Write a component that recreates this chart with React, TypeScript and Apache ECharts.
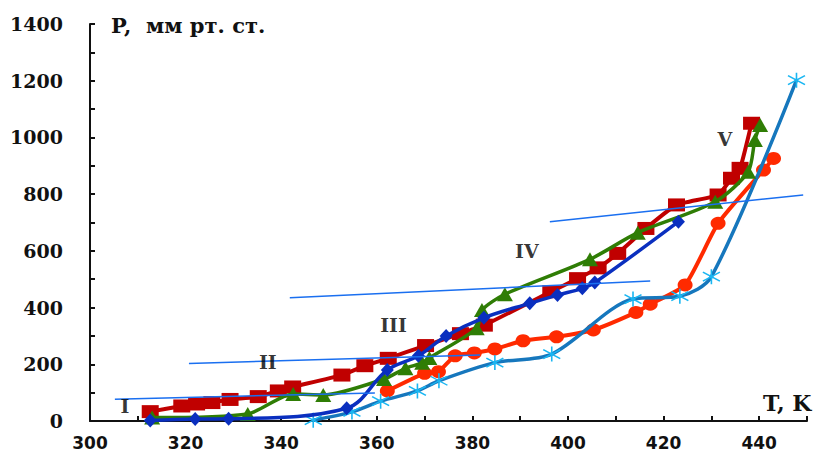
import React, { useEffect, useRef } from 'react';
import * as echarts from 'echarts';

// Axis setup
const xMin = 300;
const xMax = 450;
const xStep = 10;
const yMin = 0;
const yMax = 1400;
const yStep = 100;

// Series data [T, P]
const squares: [number, number][] = [
  [312.6, 33], [319.2, 53], [322.3, 60], [325.5, 65], [329.3, 76], [335.2, 86],
  [339.4, 106], [342.4, 120], [352.7, 162], [357.5, 195], [362.4, 221], [370.2, 266],
  [377.5, 308], [382.5, 338], [396.4, 456], [402, 502], [406.3, 540], [410.4, 591],
  [416.3, 679], [422.7, 762], [431.4, 797], [434.2, 856], [436, 891], [438.4, 1050],
];
const triangles: [number, number][] = [
  [313, 12], [333, 25], [342.5, 95], [348.8, 92], [361.5, 148], [366, 186],
  [369.5, 205], [371, 222], [380.9, 327], [382, 391], [386.8, 447], [404.6, 570],
  [414.6, 664], [430.8, 773], [437.7, 879], [439.1, 991], [440.2, 1044],
];
const diamonds: [number, number][] = [
  [312.6, 2], [322, 7], [329, 8], [353.7, 45], [362.2, 180], [368.7, 230],
  [374.5, 300], [382.4, 364], [392, 415], [397.8, 444], [403, 468], [405.6, 488],
  [423.1, 703],
];
const circles: [number, number][] = [
  [362.2, 106], [370, 168], [372.9, 174], [376.4, 230], [380.4, 240], [384.7, 254],
  [390.6, 283], [397.6, 297], [405.3, 321], [414.2, 383], [417.2, 412], [424.5, 480],
  [431.4, 697], [440.9, 885], [443, 926],
];
const stars: [number, number][] = [
  [346.7, 3], [354.8, 32], [360.8, 70], [368.5, 106], [373, 142], [384.7, 206],
  [396.6, 236], [413.6, 430], [423.4, 440], [430, 509], [447.8, 1202],
];

// Thin tangent lines
const lineI: [number, number][] = [[305.2, 77], [359.6, 99]];
const lineII: [number, number][] = [[320.7, 203], [381.6, 233]];
const lineIII: [number, number][] = [[341.8, 435], [417.2, 494]];
const lineIV: [number, number][] = [[396.2, 703], [449.2, 797]];

// Region labels
const romanNames = ['I', 'II', 'III', 'IV', 'V'];
const romanPos: [number, number][] = [
  [307.3, 53], [337.2, 208], [363.5, 339], [391.4, 599], [432.8, 994],
];

const yTitle = 'P,  мм рт. ст.';
const xTitle = 'T, K';

const starPath = 'path://M10,0 L10,20 M1,4 L19,16 M1,16 L19,4';

export default function App() {
  const ref = useRef<HTMLDivElement>(null);

  useEffect(() => {
    const chart = echarts.init(ref.current!, null, { renderer: 'svg' });
    const thin = (d: [number, number][]) => ({
      type: 'line',
      data: d,
      symbol: 'none',
      lineStyle: { color: '#1a6ff0', width: 1.5 },
      z: 10,
      silent: true,
    });
    chart.setOption({
      animation: false,
      backgroundColor: '#ffffff',
      grid: { left: 90, right: 12, top: 24, bottom: 33, containLabel: false },
      xAxis: {
        type: 'value',
        min: xMin,
        max: xMax,
        interval: xStep,
        axisLine: { show: true, lineStyle: { color: '#111', width: 2 } },
        axisTick: { show: true, inside: true, length: 5, lineStyle: { color: '#111', width: 2 } },
        axisLabel: {
          margin: 13,
          color: '#111',
          fontFamily: 'DejaVu Sans',
          fontWeight: 'bold',
          fontSize: 17,
          formatter: (v: number) => (v % 20 === 0 && v < xMax ? String(v) : ''),
        },
        splitLine: { show: false },
      },
      yAxis: {
        type: 'value',
        min: yMin,
        max: yMax,
        interval: yStep,
        axisLine: { show: true, lineStyle: { color: '#111', width: 2 } },
        axisTick: { show: true, inside: true, length: 5, lineStyle: { color: '#111', width: 2 } },
        axisLabel: {
          margin: 27,
          color: '#111',
          fontFamily: 'DejaVu Serif',
          fontWeight: 'bold',
          fontSize: 19,
          formatter: (v: number) => (v % 200 === 0 ? String(v) : ''),
        },
        splitLine: { show: false },
      },
      graphic: [
        {
          type: 'text',
          left: 111,
          top: 15,
          style: { text: yTitle, fill: '#111', font: 'bold 21px "DejaVu Serif"' },
        },
        {
          type: 'text',
          left: 763,
          top: 392,
          style: { text: xTitle, fill: '#111', font: 'bold 22px "DejaVu Serif"' },
        },
      ],
      series: [
        {
          type: 'line',
          data: circles,
          smooth: 0.2,
          symbol: 'circle',
          symbolSize: [15, 13],
          lineStyle: { color: '#ff2a00', width: 4 },
          itemStyle: { color: '#ff2a00' },
          z: 2,
        },
        {
          type: 'line',
          data: stars,
          smooth: 0.3,
          symbol: starPath,
          symbolSize: [17, 15],
          lineStyle: { color: '#1677bd', width: 3.5 },
          itemStyle: { color: '#00b0f0', borderColor: '#19b6f2', borderWidth: 1.5 },
          z: 3,
        },
        {
          type: 'line',
          data: squares,
          smooth: 0.15,
          symbol: 'rect',
          symbolSize: [17, 13],
          lineStyle: { color: '#c00000', width: 4 },
          itemStyle: { color: '#c00000' },
          z: 4,
        },
        {
          type: 'line',
          data: triangles,
          smooth: 0.25,
          symbol: 'triangle',
          symbolSize: [16, 14],
          lineStyle: { color: '#2f7d05', width: 3.5 },
          itemStyle: { color: '#2f7d05' },
          z: 5,
        },
        {
          type: 'line',
          data: diamonds,
          smooth: 0.35,
          symbol: 'diamond',
          symbolSize: [13, 14],
          lineStyle: { color: '#0a2fbf', width: 3.5 },
          itemStyle: { color: '#0a2fbf' },
          z: 6,
        },
        thin(lineI),
        thin(lineII),
        thin(lineIII),
        thin(lineIV),
        {
          type: 'scatter',
          data: romanPos.map((p, i) => ({ value: p, name: romanNames[i] })),
          symbolSize: 1,
          itemStyle: { color: 'rgba(0,0,0,0)' },
          label: {
            show: true,
            position: 'inside',
            formatter: (p: any) => p.name,
            color: '#000',
            fontFamily: 'DejaVu Serif',
            fontWeight: 'bold',
            fontSize: 19,
          },
          z: 12,
          silent: true,
        },
      ],
    });
    return () => chart.dispose();
  }, []);

  return (
    <div
      ref={ref}
      style={{ position: 'absolute', left: 0, top: 0, width: 819, height: 454 }}
    />
  );
}
